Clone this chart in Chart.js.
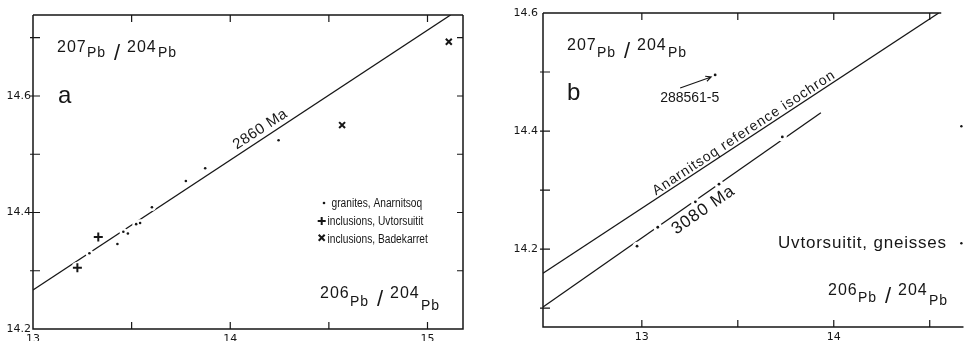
<!DOCTYPE html>
<html>
<head>
<meta charset="utf-8">
<script src="https://cdn.jsdelivr.net/npm/chart.js@4.4.1/dist/chart.umd.min.js"></script>
<style>
  html, body { margin: 0; padding: 0; background: #fff; }
  #wrap { position: relative; width: 968px; height: 341px; overflow: hidden; }
  canvas { position: absolute; top: 0; }
  #chart-a { left: 0; }
  #chart-b { left: 500px; }
</style>
</head>
<body>
<div id="wrap">
  <canvas id="chart-a" width="500" height="341"></canvas>
  <canvas id="chart-b" width="468" height="341"></canvas>
</div>
<script>
const INK = '#161616';

// panel a: granites Anarnitsoq, inclusions Uvtorsuitit / Badekarret
const graniteX = [13.286, 13.428, 13.458, 13.481, 13.523, 13.543, 13.603, 13.775, 13.873, 14.245];
const graniteY = [14.330, 14.346, 14.367, 14.364, 14.380, 14.382, 14.409, 14.454, 14.476, 14.524];
const uvtX = [13.225, 13.331];
const uvtY = [14.305, 14.358];
const badX = [14.567, 15.108];
const badY = [14.550, 14.693];
const iso2860X = [13.0, 15.117];
const iso2860Y = [14.267, 14.739];
const aXLabels = [13, 14, 15];
const aYLabels = [14.2, 14.4, 14.6];
const aXMarks = [13.5, 14, 14.5, 15];
const aYMarks = [14.3, 14.4, 14.5, 14.6, 14.7];

// panel b: Uvtorsuitit gneisses
const gneissX = [12.975, 13.083, 13.279, 13.402, 13.732];
const gneissY = [14.205, 14.237, 14.280, 14.310, 14.390];
const sampleX = [13.382];
const sampleY = [14.495];
const edgeX = [14.665, 14.665];
const edgeY = [14.408, 14.210];
const refX = [12.485, 14.547];
const refY = [14.159, 14.6];
const iso3080X = [12.485, 13.933];
const iso3080Y = [14.102, 14.431];
const bXLabels = [13, 14];
const bYLabels = [14.2, 14.4, 14.6];
const bXMarks = [13, 13.5, 14, 14.5];
const bYMarks = [14.1, 14.2, 14.3, 14.4, 14.5];

function pts(xs, ys) {
  return xs.map((x, i) => ({ x: x, y: ys[i] }));
}

function near(list, v) {
  return list.some(l => Math.abs(l - v) < 1e-6);
}

function text(ctx, s, x, y, o) {
  o = o || {};
  ctx.save();
  ctx.translate(x, y);
  if (o.rot) ctx.rotate(o.rot);
  if (o.sx) ctx.scale(o.sx, 1);
  ctx.font = (o.size || 12) + 'px "Liberation Sans", Arial, sans-serif';
  ctx.letterSpacing = (o.ls || 0) + 'px';
  ctx.textAlign = o.align || 'left';
  ctx.textBaseline = o.base || 'alphabetic';
  ctx.fillStyle = INK;
  ctx.fillText(s, 0, o.dy || 0);
  ctx.restore();
}

// 207Pb / 204Pb style axis titles
function ratio(ctx, x, y, a, b, dy1, dy2) {
  text(ctx, a, x, y, { size: 16, ls: 1 });
  text(ctx, 'Pb', x + 30, y + dy1, { size: 14, ls: 1 });
  text(ctx, '/', x + 57, y + 8, { size: 22 });
  text(ctx, b, x + 70, y, { size: 16, ls: 1 });
  text(ctx, 'Pb', x + 101, y + dy2, { size: 14, ls: 1 });
}

// label written along a line, centred at data value xAt
function lineLabel(chart, xs, ys, xAt, s, o) {
  const sx = chart.scales.x, sy = chart.scales.y;
  const x1 = sx.getPixelForValue(xs[0]), y1 = sy.getPixelForValue(ys[0]);
  const x2 = sx.getPixelForValue(xs[xs.length - 1]), y2 = sy.getPixelForValue(ys[ys.length - 1]);
  const px = sx.getPixelForValue(xAt);
  const py = y1 + (px - x1) / (x2 - x1) * (y2 - y1);
  o.rot = Math.atan2(y2 - y1, x2 - x1);
  o.align = 'center';
  text(chart.ctx, s, px, py, o);
}

function drawFrame(chart, xMarks, yMarks, box, topEnd) {
  const ctx = chart.ctx, a = chart.chartArea;
  const sx = chart.scales.x, sy = chart.scales.y;
  const topRight = topEnd ? sx.getPixelForValue(topEnd) : a.right;
  ctx.save();
  ctx.strokeStyle = INK;
  ctx.lineWidth = 1.5;
  ctx.beginPath();
  ctx.moveTo(a.left, a.top);
  ctx.lineTo(a.left, a.bottom);
  ctx.lineTo(a.right, a.bottom);
  if (box) ctx.lineTo(a.right, a.top);
  ctx.moveTo(topRight, a.top);
  ctx.lineTo(a.left, a.top);
  ctx.stroke();
  ctx.lineWidth = 1.2;
  ctx.beginPath();
  xMarks.forEach(v => {
    const p = sx.getPixelForValue(v);
    ctx.moveTo(p, a.top); ctx.lineTo(p, a.top + 7);
    ctx.moveTo(p, a.bottom); ctx.lineTo(p, a.bottom - 7);
  });
  yMarks.forEach(v => {
    const p = sy.getPixelForValue(v);
    ctx.moveTo(a.left - 3, p); ctx.lineTo(a.left + 7, p);
    if (box) { ctx.moveTo(a.right, p); ctx.lineTo(a.right - 6, p); }
  });
  ctx.stroke();
  ctx.restore();
}

function arrow(ctx, x1, y1, x2, y2) {
  const ang = Math.atan2(y2 - y1, x2 - x1);
  ctx.save();
  ctx.strokeStyle = INK;
  ctx.lineWidth = 1.1;
  ctx.beginPath();
  ctx.moveTo(x1, y1); ctx.lineTo(x2, y2);
  ctx.moveTo(x2 - 6 * Math.cos(ang - 0.45), y2 - 6 * Math.sin(ang - 0.45));
  ctx.lineTo(x2, y2);
  ctx.lineTo(x2 - 6 * Math.cos(ang + 0.45), y2 - 6 * Math.sin(ang + 0.45));
  ctx.stroke();
  ctx.restore();
}

function legendA(ctx) {
  ctx.save();
  ctx.fillStyle = INK;
  ctx.strokeStyle = INK;
  ctx.lineWidth = 2;
  ctx.beginPath(); ctx.arc(324, 203, 1.3, 0, Math.PI * 2); ctx.fill();
  ctx.beginPath();
  ctx.moveTo(317.7, 221); ctx.lineTo(325.7, 221);
  ctx.moveTo(321.7, 217); ctx.lineTo(321.7, 225);
  ctx.moveTo(318.7, 234.7); ctx.lineTo(324.7, 240.7);
  ctx.moveTo(324.7, 234.7); ctx.lineTo(318.7, 240.7);
  ctx.stroke();
  ctx.restore();
  text(ctx, 'granites, Anarnitsoq', 331.5, 207, { size: 12, sx: 0.85 });
  text(ctx, 'inclusions, Uvtorsuitit', 327.5, 225, { size: 12, sx: 0.85 });
  text(ctx, 'inclusions, Badekarret', 327.5, 242.5, { size: 12, sx: 0.85 });
}

function axisScales(xMin, xMax, yMin, yMax, xLabels, yLabels, yWidth, yPad, xHeight) {
  const tickFont = { family: 'DejaVu Sans', size: 11 };
  return {
    x: {
      type: 'linear', min: xMin, max: xMax,
      border: { display: false },
      grid: { display: false, drawTicks: false },
      ticks: {
        stepSize: 0.5, includeBounds: false, autoSkip: false, maxRotation: 0,
        padding: 4, color: INK, font: tickFont,
        callback: v => near(xLabels, v) ? String(Math.round(v)) : ''
      },
      afterFit: s => { s.height = xHeight; }
    },
    y: {
      type: 'linear', min: yMin, max: yMax,
      border: { display: false },
      grid: { display: false, drawTicks: false },
      ticks: {
        stepSize: 0.1, includeBounds: false, autoSkip: false, crossAlign: 'near',
        padding: yPad, color: INK, font: tickFont,
        callback: v => near(yLabels, v) ? v.toFixed(1) : ''
      },
      afterFit: s => { s.width = yWidth; }
    }
  };
}

const common = {
  responsive: false,
  animation: false,
  devicePixelRatio: 1,
  events: [],
  plugins: { legend: { display: false }, tooltip: { enabled: false } }
};

function lineSet(xs, ys) {
  return { data: pts(xs, ys), showLine: true, pointRadius: 0, borderColor: INK, borderWidth: 1.3, order: 3 };
}
function haloSet(xs, ys, r) {
  return { data: pts(xs, ys), pointRadius: r, pointBackgroundColor: '#fff', pointBorderWidth: 0, order: 2 };
}
function dotSet(xs, ys, r) {
  return { data: pts(xs, ys), pointRadius: r, pointBackgroundColor: INK, pointBorderWidth: 0, order: 0 };
}

new Chart(document.getElementById('chart-a'), {
  type: 'scatter',
  data: {
    datasets: [
      dotSet(graniteX, graniteY, 1.3),
      { data: pts(uvtX, uvtY), pointStyle: 'cross', pointRadius: 4.5, pointBorderWidth: 2, pointBorderColor: INK, order: 0 },
      { data: pts(badX, badY), pointStyle: 'crossRot', pointRadius: 4.2, pointBorderWidth: 2, pointBorderColor: INK, order: 0 },
      haloSet(graniteX, graniteY, 3.8),
      haloSet(uvtX, uvtY, 6),
      haloSet(badX, badY, 6),
      lineSet(iso2860X, iso2860Y)
    ]
  },
  options: Object.assign({}, common, {
    layout: { padding: { top: 15, right: 37, left: 0, bottom: 0 } },
    scales: axisScales(13, 15.18, 14.2, 14.739, aXLabels, aYLabels, 33, 2, 12)
  }),
  plugins: [{
    id: 'panelA',
    afterDraw(chart) {
      const ctx = chart.ctx;
      drawFrame(chart, aXMarks, aYMarks, true, null);
      ratio(ctx, 57, 52, '207', '204', 5, 5);
      ratio(ctx, 320, 298, '206', '204', 8, 12);
      text(ctx, 'a', 58, 103, { size: 24 });
      lineLabel(chart, iso2860X, iso2860Y, 14.178, '2860 Ma', { size: 15, ls: 0.5, dy: -5 });
      legendA(ctx);
    }
  }]
});

new Chart(document.getElementById('chart-b'), {
  type: 'scatter',
  data: {
    datasets: [
      dotSet(gneissX, gneissY, 1.4),
      dotSet(sampleX, sampleY, 1.4),
      dotSet(edgeX, edgeY, 1.2),
      haloSet(gneissX, gneissY, 4.5),
      lineSet(refX, refY),
      lineSet(iso3080X, iso3080Y)
    ]
  },
  options: Object.assign({}, common, {
    layout: { padding: { top: 13, right: 0, left: 0, bottom: 0 } },
    scales: axisScales(12.485, 14.676, 14.068, 14.6, bXLabels, bYLabels, 43, 5, 14)
  }),
  plugins: [{
    id: 'panelB',
    afterDraw(chart) {
      const ctx = chart.ctx;
      const sx = chart.scales.x, sy = chart.scales.y;
      drawFrame(chart, bXMarks, bYMarks, false, 14.56);
      ratio(ctx, 67, 50, '207', '204', 7, 7);
      ratio(ctx, 328, 295, '206', '204', 7, 10);
      text(ctx, 'b', 67, 100, { size: 24 });
      lineLabel(chart, refX, refY, 13.552, 'Anarnitsoq reference isochron', { size: 14, ls: 1, dy: -3 });
      lineLabel(chart, iso3080X, iso3080Y, 13.284, '3080 Ma', { size: 17, ls: 1, dy: 4, base: 'top' });
      const px = sx.getPixelForValue(sampleX[0]), py = sy.getPixelForValue(sampleY[0]);
      arrow(ctx, px - 35, py + 13, px - 4, py + 2);
      text(ctx, '288561-5', px - 55, py + 27, { size: 14 });
      text(ctx, 'Uvtorsuitit, gneisses', 278, 248, { size: 17, ls: 0.8 });
    }
  }]
});
</script>
</body>
</html>
